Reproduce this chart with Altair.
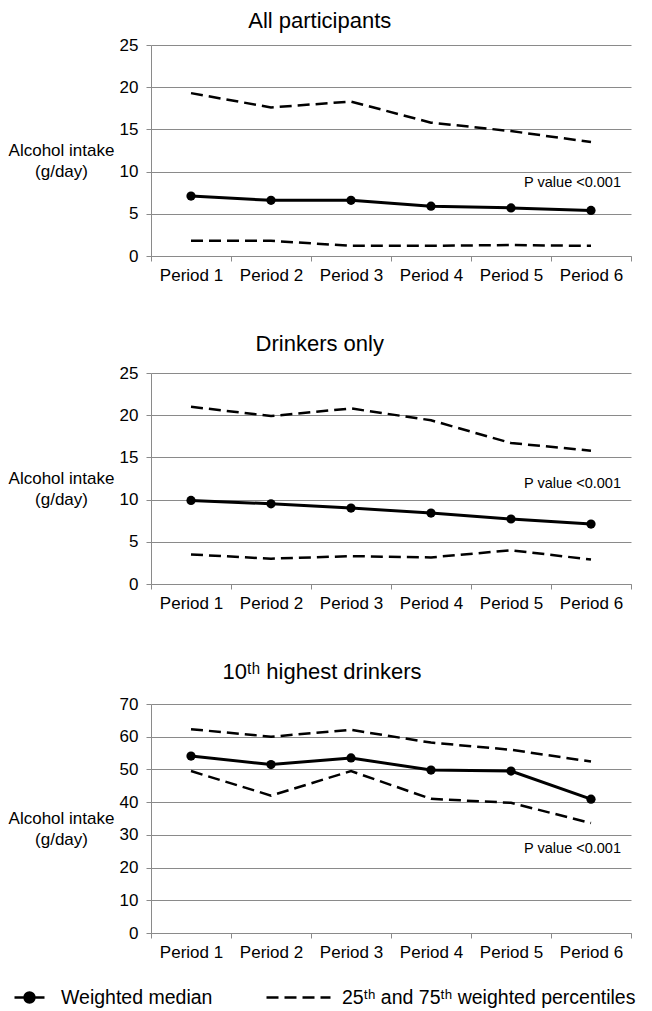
import altair as alt
import pandas as pd

FONT = "Liberation Sans"
GRID = "#8a8a8a"

periods = ["Period 1", "Period 2", "Period 3", "Period 4", "Period 5", "Period 6"]

# All participants
all_median = [7.1, 6.6, 6.6, 5.9, 5.7, 5.4]
all_p25 = [1.8, 1.8, 1.2, 1.2, 1.3, 1.2]
all_p75 = [19.3, 17.6, 18.3, 15.8, 14.8, 13.5]

# Drinkers only
drk_median = [9.9, 9.5, 9.0, 8.4, 7.7, 7.1]
drk_p25 = [3.5, 3.0, 3.3, 3.15, 4.0, 2.9]
drk_p75 = [21.0, 19.9, 20.8, 19.4, 16.7, 15.8]

# 10th highest drinkers
top_median = [54.1, 51.5, 53.5, 49.8, 49.5, 40.9]
top_p25 = [49.5, 42.0, 49.5, 41.0, 39.8, 33.6]
top_p75 = [62.3, 60.0, 62.1, 58.2, 56.0, 52.4]

titles = ["All participants", "Drinkers only", "10ᵗʰ highest drinkers"]
y_ticks_25 = [0, 5, 10, 15, 20, 25]
y_ticks_70 = [0, 10, 20, 30, 40, 50, 60, 70]
pvalue_label = "P value <0.001"
pvalue_y = [8.6, 11.9, 25.7]
legend_median = "Weighted  median"
legend_pct = "25ᵗʰ and 75ᵗʰ weighted percentiles"

MEDIAN_SYMBOL = "M-1,0L1,0M0.33,0A0.33,0.33,0,1,1,-0.33,0A0.33,0.33,0,1,1,0.33,0Z"


def panel(title, median, p25, p75, yticks, height, pval, with_legend, title_offset):
    med = pd.DataFrame({"period": periods, "value": median,
                        "kind": [legend_median] * len(periods)})
    pct = pd.DataFrame({"period": periods + periods, "value": p25 + p75,
                        "series": ["p25"] * len(periods) + ["p75"] * len(periods),
                        "kind": [legend_pct] * (2 * len(periods))})
    pv = pd.DataFrame({"period": [periods[-1]], "value": [pval], "label": [pvalue_label]})

    xenc = alt.X("period:N", sort=periods,
                 scale=alt.Scale(type="band", paddingInner=0, paddingOuter=0),
                 axis=alt.Axis(title=None, labelAngle=0, tickBand="extent",
                               labelFont=FONT, labelFontSize=17, labelColor="black",
                               labelPadding=6, tickSize=5, tickColor=GRID,
                               domainColor=GRID, grid=False))
    yenc = alt.Y("value:Q",
                 scale=alt.Scale(domain=[0, yticks[-1]], nice=False),
                 axis=alt.Axis(values=yticks, title=["Alcohol intake", "(g/day)"],
                               titleAngle=0, titleX=-90, titleY=height / 2,
                               titleAlign="center", titleBaseline="middle",
                               titleFont=FONT, titleFontSize=17, titleFontWeight="normal",
                               titleColor="black", titleLineHeight=21,
                               labelFont=FONT, labelFontSize=17, labelColor="black",
                               labelPadding=8, tickSize=5, tickColor=GRID,
                               domainColor=GRID, gridColor=GRID, grid=True))

    if with_legend:
        dash_legend = alt.Legend(title=None, orient="none", legendX=114,
                                 legendY=height + 63 - 32,
                                 symbolType="stroke", symbolSize=4096,
                                 symbolStrokeWidth=2.5, symbolStrokeColor="black",
                                 symbolDash=[17, 7],
                                 labelFont=FONT, labelFontSize=19.5, labelColor="black",
                                 labelOffset=10, labelLimit=400, padding=0)
        med_legend = alt.Legend(title=None, orient="none", legendX=-138,
                                legendY=height + 63 - 15,
                                symbolType=MEDIAN_SYMBOL, symbolSize=900,
                                symbolStrokeWidth=2.5, symbolStrokeColor="black",
                                symbolFillColor="black",
                                labelFont=FONT, labelFontSize=19.5, labelColor="black",
                                labelOffset=15, labelLimit=300, padding=0)
    else:
        dash_legend = None
        med_legend = None

    pct_line = alt.Chart(pct).mark_line(strokeWidth=2.5, color="black").encode(
        x=xenc, y=yenc, detail="series:N",
        strokeDash=alt.StrokeDash("kind:N", scale=alt.Scale(range=[[12, 6]]),
                                  legend=dash_legend))
    med_line = alt.Chart(med).mark_line(strokeWidth=3, color="black").encode(x=xenc, y=yenc)
    med_pts = alt.Chart(med).mark_point(filled=True, size=85, opacity=1).encode(
        x=xenc, y=yenc,
        color=alt.Color("kind:N", scale=alt.Scale(range=["black"]), legend=med_legend))
    pv_text = alt.Chart(pv).mark_text(align="right", baseline="middle", dx=30,
                                      font=FONT, fontSize=14.5, color="black").encode(
        x=xenc, y=yenc, text="label:N")

    return alt.layer(pct_line, med_line, med_pts, pv_text).properties(
        width=480, height=height,
        title=alt.TitleParams(text=title, font=FONT, fontSize=22, fontWeight="normal",
                              color="black", anchor="middle", frame="bounds",
                              offset=title_offset))


p1 = panel(titles[0], all_median, all_p25, all_p75, y_ticks_25, 211, pvalue_y[0], False, 3)
p2 = panel(titles[1], drk_median, drk_p25, drk_p75, y_ticks_25, 211, pvalue_y[1], False, 8)
p3 = panel(titles[2], top_median, top_p25, top_p75, y_ticks_70, 229, pvalue_y[2], True, 11)

chart = alt.vconcat(p1, p2, p3, spacing=50).properties(
    padding={"left": 0, "top": 2, "right": 0, "bottom": 0}
).resolve_scale(
    y="independent", color="independent", strokeDash="independent"
).configure_view(stroke=None)

chart.save("out.html", embed_options={"renderer": "svg", "actions": False})
